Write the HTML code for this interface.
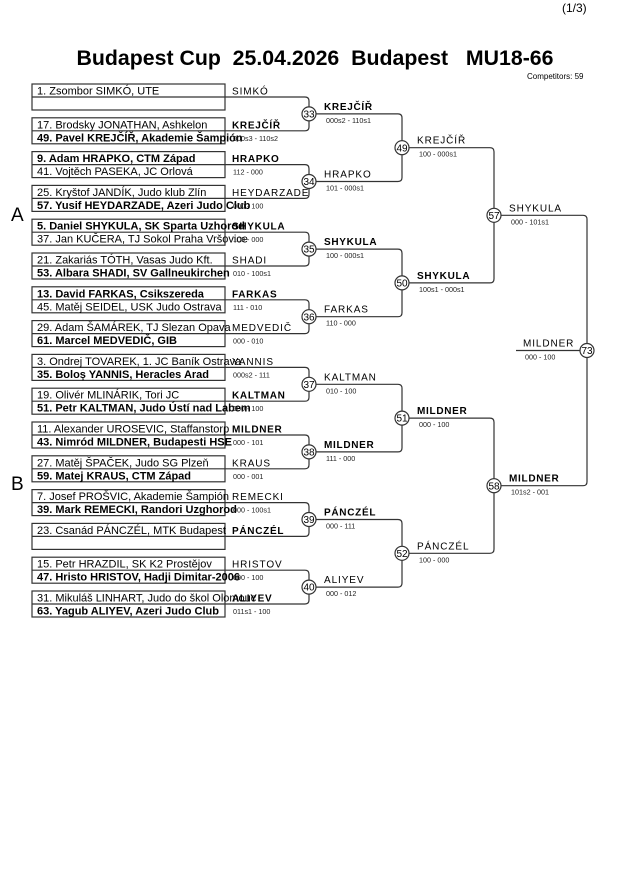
<!DOCTYPE html>
<html><head><meta charset="utf-8"><style>
html,body{margin:0;padding:0;background:#fff;width:630px;height:891px;overflow:hidden}
svg{display:block}
text{font-family:"Liberation Sans",Arial,sans-serif;fill:#000}
.e{font-size:11px}
.eb{font-size:11px;font-weight:bold}
.l{font-size:10px;letter-spacing:0.9px}
.lb{font-size:10px;font-weight:bold;letter-spacing:0.7px}
.s{font-size:7.2px;fill:#222}
.c{font-size:10px;text-anchor:middle}
</style></head><body>
<svg width="630" height="891" viewBox="0 0 630 891" xmlns="http://www.w3.org/2000/svg">
<text x="562" y="12" style="font-size:12px">(1/3)</text>
<text x="315" y="65" text-anchor="middle" style="font-size:21.3px;font-weight:bold" xml:space="preserve">Budapest Cup  25.04.2026  Budapest   MU18-66</text>
<text x="527" y="79" style="font-size:8px">Competitors: 59</text>
<text x="11" y="221" style="font-size:19px">A</text>
<text x="11" y="490" style="font-size:19px">B</text>
<g id="boxes" fill="none" stroke="#333" stroke-width="1.2"></g>
<g id="lines" fill="none" stroke="#333" stroke-width="1.2"></g>
<g id="txt"></g>
</svg>
<script>
var NS="http://www.w3.org/2000/svg";
function el(p,tag,a,t){var e=document.createElementNS(NS,tag);for(var k in a)e.setAttribute(k,a[k]);if(t!==undefined)e.textContent=t;document.getElementById(p).appendChild(e);return e;}
var P=[
["1. Zsombor SIMKÓ, UTE",0,"",0,"SIMKÓ",0,""],
["17. Brodsky JONATHAN, Ashkelon",0,"49. Pavel KREJČÍŘ, Akademie Šampión",1,"KREJČÍŘ",1,"000s3 - 110s2"],
["9. Adam HRAPKO, CTM Západ",1,"41. Vojtěch PASEKA, JC Orlová",0,"HRAPKO",1,"112 - 000"],
["25. Kryštof JANDÍK, Judo klub Zlín",0,"57. Yusif HEYDARZADE, Azeri Judo Club",1,"HEYDARZADE",0,"000 - 100"],
["5. Daniel SHYKULA, SK Sparta Uzhorod",1,"37. Jan KUČERA, TJ Sokol Praha Vršovice",0,"SHYKULA",1,"100 - 000"],
["21. Zakariás TÓTH, Vasas Judo Kft.",0,"53. Albara SHADI, SV Gallneukirchen",1,"SHADI",0,"010 - 100s1"],
["13. David FARKAS, Csikszereda",1,"45. Matěj SEIDEL, USK Judo Ostrava",0,"FARKAS",1,"111 - 010"],
["29. Adam ŠAMÁREK, TJ Slezan Opava",0,"61. Marcel MEDVEDIČ, GIB",1,"MEDVEDIČ",0,"000 - 010"],
["3. Ondrej TOVAREK, 1. JC Baník Ostrava",0,"35. Boloș YANNIS, Heracles Arad",1,"YANNIS",0,"000s2 - 111"],
["19. Olivér MLINÁRIK, Tori JC",0,"51. Petr KALTMAN, Judo Ústí nad Labem",1,"KALTMAN",1,"000 - 100"],
["11. Alexander UROSEVIC, Staffanstorp",0,"43. Nimród MILDNER, Budapesti HSE",1,"MILDNER",1,"000 - 101"],
["27. Matěj ŠPAČEK, Judo SG Plzeň",0,"59. Matej KRAUS, CTM Západ",1,"KRAUS",0,"000 - 001"],
["7. Josef PROŠVIC, Akademie Šampión",0,"39. Mark REMECKI, Randori Uzghorod",1,"REMECKI",0,"000 - 100s1"],
["23. Csanád PÁNCZÉL, MTK Budapest",0,"",0,"PÁNCZÉL",1,""],
["15. Petr HRAZDIL, SK K2 Prostějov",0,"47. Hristo HRISTOV, Hadji Dimitar-2006",1,"HRISTOV",0,"000 - 100"],
["31. Mikuláš LINHART, Judo do škol Olomouc",0,"63. Yagub ALIYEV, Azeri Judo Club",1,"ALIYEV",1,"011s1 - 100"]];
var S=33.8, mid=[];
for(var i=0;i<16;i++){
 var T=84+S*i, p=P[i];
 el("boxes","rect",{x:32,y:T,width:193,height:26});
 el("boxes","line",{x1:32,y1:T+13,x2:225,y2:T+13});
 el("txt","text",{x:37,y:T+10.5,"class":p[1]?"eb":"e"},p[0]);
 if(p[2])el("txt","text",{x:37,y:T+23.5,"class":p[3]?"eb":"e"},p[2]);
 el("txt","text",{x:232,y:T+10.5,"class":p[5]?"lb":"l"},p[4]);
 if(p[6])el("txt","text",{x:233,y:T+23,"class":"s"},p[6]);
 mid.push(T+13);
}
function bracket(ys,x0,x){
 var out=[];
 for(var k=0;k<ys.length;k+=2){
  var a=ys[k],b=ys[k+1],c=(a+b)/2;
  el("lines","path",{d:"M"+x0+","+a+" H"+(x-4)+" Q"+x+","+a+" "+x+","+(a+4)+" V"+(b-4)+" Q"+x+","+b+" "+(x-4)+","+b+" H"+x0});
  out.push(c);
 }
 return out;
}
function circ(x,y,n){el("lines","circle",{cx:x,cy:y,r:7,fill:"#fff"});el("txt","text",{x:x,y:y+3.6,"class":"c"},n);}
function labs(ys,x,L){for(var k=0;k<ys.length;k++){el("txt","text",{x:x,y:ys[k]-4,"class":L[k][1]?"lb":"l"},L[k][0]);el("txt","text",{x:x+2,y:ys[k]+9,"class":"s"},L[k][2]);}}
var r1=bracket(mid,225,309);
var r2=bracket(r1,316,402);
var r3=bracket(r2,409,494);
var r4=bracket(r3,501,587);
el("lines","line",{x1:516,y1:r4[0],x2:580,y2:r4[0]});
labs(r1,324,[["KREJČÍŘ",1,"000s2 - 110s1"],["HRAPKO",0,"101 - 000s1"],["SHYKULA",1,"100 - 000s1"],["FARKAS",0,"110 - 000"],["KALTMAN",0,"010 - 100"],["MILDNER",1,"111 - 000"],["PÁNCZÉL",1,"000 - 111"],["ALIYEV",0,"000 - 012"]]);
labs(r2,417,[["KREJČÍŘ",0,"100 - 000s1"],["SHYKULA",1,"100s1 - 000s1"],["MILDNER",1,"000 - 100"],["PÁNCZÉL",0,"100 - 000"]]);
labs(r3,509,[["SHYKULA",0,"000 - 101s1"],["MILDNER",1,"101s2 - 001"]]);
labs(r4,523,[["MILDNER",0,"000 - 100"]]);
for(var k=0;k<8;k++)circ(309,r1[k],33+k);
for(var k=0;k<4;k++)circ(402,r2[k],49+k);
for(var k=0;k<2;k++)circ(494,r3[k],57+k);
circ(587,r4[0],73);
</script>
</body></html>
